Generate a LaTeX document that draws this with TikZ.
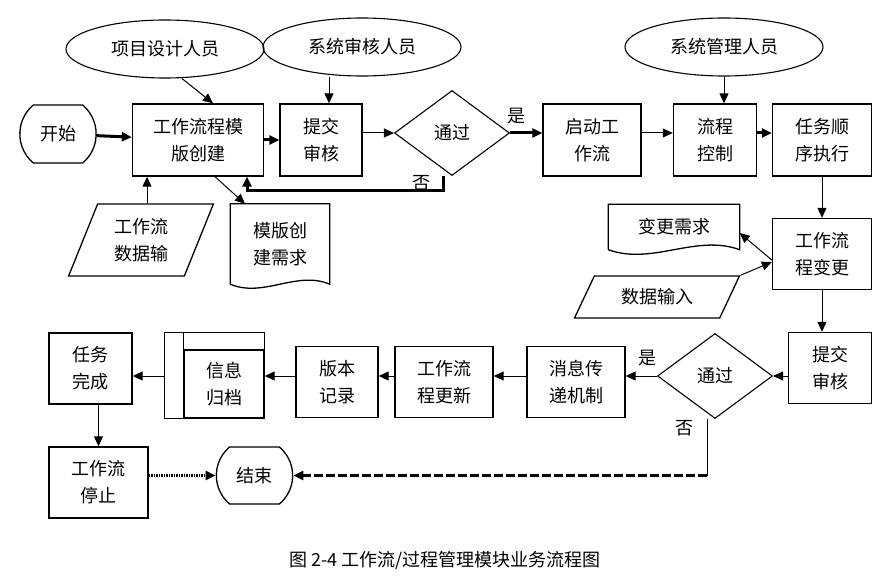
\documentclass[tikz,border=0pt]{standalone}
\usepackage{fontspec}
\setmainfont{Noto Sans CJK SC}
\usepackage{tikz}
\usetikzlibrary{shapes,arrows.meta,positioning,calc}

\tikzset{
  box/.style={draw,line width=1.4pt,minimum width=82pt,minimum height=72pt,align=center,inner sep=2pt},
  role/.style={draw,ellipse,line width=1.1pt,minimum width=198pt,minimum height=58pt},
  term/.style={draw,rounded rectangle,rounded rectangle arc length=100,line width=1.3pt,minimum width=83pt,minimum height=58pt},
  check/.style={draw,diamond,line width=1.1pt,minimum width=115pt,minimum height=85pt,inner sep=0pt},
  iobox/.style={draw,trapezium,trapezium left angle=65,trapezium right angle=115,trapezium stretches=true,line width=1.3pt,align=center},
  docbox/.style={minimum width=99pt,align=center,inner sep=2pt},
  link/.style={line width=1pt,-{Triangle[length=10pt,width=9pt]}},
  boldlink/.style={line width=3pt,-{Triangle[length=10pt,width=9pt]}},
}

\begin{document}
\begin{tikzpicture}[x=1pt,y=-1pt,font=\fontsize{18}{27}\selectfont]
  \useasboundingbox (0,0) rectangle (881,588);

  \node[term] (start) at (58,134) {开始};
  \node[box,minimum width=131pt] (create) at (198,140) {工作流程模\\版创建};
  \node[role] (designer) at (165,49) {项目设计人员};
  \node[box] (submit) at (321,140) {提交\\审核};
  \node[role] (auditor) at (362,47) {系统审核人员};
  \node[check] (pass) at (452,133) {通过};
  \node[box,minimum width=98pt] (launch) at (592,140) {启动工\\作流};
  \node[box,minimum width=83pt] (control) at (715,140) {流程\\控制};
  \node[role] (admin) at (724,47) {系统管理人员};
  \node[box,minimum width=99pt] (run) at (822,140) {任务顺\\序执行};
  \node[box,minimum width=99pt,minimum height=71pt] (change) at (822,254) {工作流\\程变更};

  \node[iobox,trapezium left angle=68,trapezium right angle=112,minimum width=145pt,minimum height=72pt] (flowdata) at (141,240) {工作流\\数据输};
  \node[iobox,trapezium left angle=62,trapezium right angle=118,minimum width=165pt,minimum height=42pt] (datain) at (657,297) {数据输入};

  % documents with a wavy lower edge
  \node[docbox,minimum height=80pt] (tmplreq) at (280,244) {模版创\\建需求};
  \draw[line width=1.3pt] (tmplreq.south west) -- (tmplreq.north west) -- (tmplreq.north east) -- (tmplreq.south east)
    .. controls ($(tmplreq.south east)+(-33,-14)$) and ($(tmplreq.south west)+(33,14)$) .. (tmplreq.south west);
  \node[docbox,minimum width=131pt,minimum height=45pt] (chgreq) at (674,227) {变更需求};
  \draw[line width=1.3pt] (chgreq.south west) -- (chgreq.north west) -- (chgreq.north east) -- (chgreq.south east)
    .. controls ($(chgreq.south east)+(-44,-16)$) and ($(chgreq.south west)+(44,16)$) .. (chgreq.south west);

  \node[box,minimum width=83pt,minimum height=71pt] (review) at (830,368) {提交\\审核};
  \node[check] (pass2) at (715,376) {通过};
  \node[box,minimum width=98pt,minimum height=71pt] (notify) at (576,382) {消息传\\递机制};
  \node[box,minimum width=98pt,minimum height=71pt] (update) at (444,382) {工作流\\程更新};
  \node[box,minimum height=71pt] (version) at (337,382) {版本\\记录};
  \node[box,minimum width=80pt,minimum height=68pt] (archive) at (224,384) {信息\\归档};
  \draw[line width=1.4pt] (archive.south west) -- ++(-19,0) |- ([yshift=17pt]archive.north east) -- (archive.north east);
  \draw[line width=1.4pt] (archive.north west) -- ++(0,-17);
  \node[box,minimum width=83pt,minimum height=71pt] (done) at (90.5,368.5) {任务\\完成};
  \node[box,minimum width=99pt,minimum height=71pt] (halt) at (98.5,482.5) {工作流\\停止};
  \node[term,minimum height=57pt] (finish) at (254.5,475.5) {结束};

  \node[font=\fontsize{18}{20}\selectfont] (caption) at (445,561) {图 2-4 工作流/过程管理模块业务流程图};

  \draw[boldlink] (start) -- (create);
  \draw[link] ([xshift=17pt]designer.south) -- ([xshift=15pt]create.north);
  \draw[boldlink] (create) -- (submit);
  \draw[link] ([xshift=8pt]submit.north |- auditor.south) -- ([xshift=8pt]submit.north);
  \draw[link] (submit.east |- pass) -- (pass);
  \draw[boldlink] (pass) -- node[pos=0.2,above=4pt]{是} (pass -| launch.west);
  \draw[boldlink] ([xshift=-9pt]pass.south) -- node[left=8pt,pos=0.5]{否} ++(0,14) -| ([xshift=49pt]create.south);
  \draw[link] (launch.east |- pass) -- (control.west |- pass);
  \draw[link] (admin.south) -- (admin.south |- control.north);
  \draw[boldlink] (control.east |- pass) -- (run.west |- pass);
  \draw[link] (run) -- (change);
  \draw[link] ([yshift=-6pt]change.west) -- ([yshift=-6pt]chgreq.east);
  \draw[link] (datain.top right corner) -- ([yshift=-8pt]change.west);
  \draw[link] ([xshift=6pt]flowdata.north) -- ([xshift=6pt]flowdata.north |- create.south);
  \draw[link] ([xshift=17pt]create.south) -- ([xshift=-35pt]tmplreq.north);

  \draw[link] (change.south) -- (change.south |- review.north);
  \draw[link] (review.west |- pass2) -- (pass2.east);
  \draw[link] (pass2.west) -- node[pos=0.3,above=6pt]{是} (notify.east |- pass2);
  \draw[link] (notify.west |- pass2) -- (update.east |- pass2);
  \draw[link] (update.west |- pass2) -- (version.east |- pass2);
  \draw[link] (version.west |- pass2) -- (archive.east |- pass2);
  \draw[link] ([xshift=-19pt]archive.west |- pass2) -- (done.east |- pass2);
  \draw[link] (halt |- done.south) -- (halt.north);
  \draw[boldlink,dash pattern=on 1.5pt off 1pt] (halt.east |- finish) -- (finish.west);
  \draw[line width=1pt] ([xshift=-8pt]pass2.south) -- node[left=10pt,pos=0.16]{否} ([xshift=-8pt]pass2.south |- finish) coordinate (nocorner);
  \draw[boldlink,dash pattern=on 9pt off 3pt] (nocorner) -- (finish.east);
\end{tikzpicture}
\end{document}
